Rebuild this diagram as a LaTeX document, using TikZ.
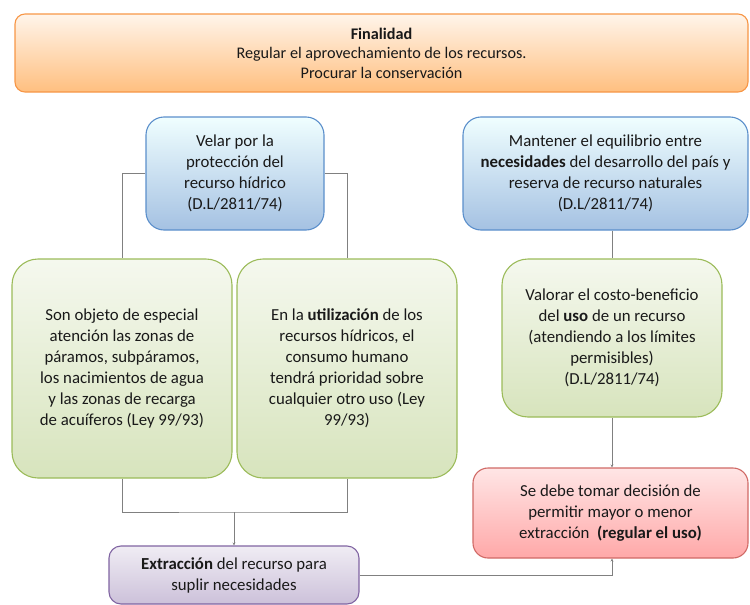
\documentclass[tikz,border=0pt]{standalone}
\usepackage{fontspec}
\setmainfont{Carlito}
\usetikzlibrary{arrows.meta}

\definecolor{orangeline}{HTML}{F79646}
\definecolor{blueline}{HTML}{5B8FCB}
\definecolor{greenline}{HTML}{9BBB59}
\definecolor{redline}{HTML}{D06A66}
\definecolor{purpleline}{HTML}{8064A2}

\begin{document}
\begin{tikzpicture}[x=1pt, y=-1pt,
    >={Stealth[length=3pt,width=3pt]},
    box/.style={align=center, inner sep=0pt, font=\fontsize{16.8}{21}\selectfont, text=black!90, line width=1.1pt},
    finbox/.style={box, draw=orangeline, top color=orange!8!white, bottom color=orange!50!white, rounded corners=10pt, minimum width=733pt, minimum height=78pt, font=\fontsize{16.2}{19.5}\selectfont},
    bluebox/.style={box, draw=blueline, top color=blue!5!cyan!6!white, bottom color=blueline!55!white, rounded corners=18pt, minimum height=113pt},
    greenbox/.style={box, draw=greenline, top color=greenline!10!white, bottom color=greenline!40!white, rounded corners=26pt, minimum width=220pt},
    redbox/.style={box, draw=redline, top color=red!10!white, bottom color=red!34!white, rounded corners=15pt, minimum width=275pt, minimum height=90pt},
    purplebox/.style={box, draw=purpleline, top color=purpleline!12!white, bottom color=purpleline!40!white, rounded corners=12pt, minimum width=250pt, minimum height=58pt},
    conn/.style={draw=gray, line width=0.8pt}
]
\useasboundingbox (0,0) rectangle (750,605);

\node[finbox] (fin) at (381.5,53) {\textbf{Finalidad}\\Regular el aprovechamiento de los recursos.\\Procurar la conservación};

\node[bluebox, minimum width=178pt] (vel) at (235,173.5) {Velar por la\\protección del\\recurso hídrico\\(D.L/2811/74)};
\node[bluebox, minimum width=285pt] (man) at (605.5,173.5) {Mantener el equilibrio entre\\\textbf{necesidades} del desarrollo del país y\\reserva de recurso naturales\\(D.L/2811/74)};

\node[greenbox, minimum height=219pt] (son) at (122,368.5) {Son objeto de especial\\atención las zonas de\\páramos, subpáramos,\\los nacimientos de agua\\y las zonas de recarga\\de acuíferos (Ley 99/93)};
\node[greenbox, minimum height=219pt] (uti) at (347,368.5) {En la \textbf{utilización} de los\\recursos hídricos, el\\consumo humano\\tendrá prioridad sobre\\cualquier otro uso (Ley\\99/93)};
\node[greenbox, minimum height=158pt] (val) at (612,338) {Valorar el costo-beneficio\\del \textbf{uso} de un recurso\\(atendiendo a los límites\\permisibles)\\(D.L/2811/74)};

\node[redbox] (dec) at (610.5,513) {Se debe tomar decisión de\\permitir mayor o menor\\extracción \ \textbf{(regular el uso)}};
\node[purplebox] (ext) at (234,575) {\textbf{Extracción} del recurso para\\suplir necesidades};

\coordinate (jn) at (234,512);

\draw[conn] (vel.west) -| (son.north);
\draw[conn] (vel.east) -| (uti.north);
\draw[conn] (son.south) |- (jn) -| (uti.south);
\draw[conn, ->] (jn) -- (ext.north);
\draw[conn] (val.north |- man.south) -- (val.north);
\draw[conn, ->] (val.south) -- (val.south |- dec.north);
\draw[conn, ->] (ext.east) -| (val.south |- dec.south);
\end{tikzpicture}
\end{document}
